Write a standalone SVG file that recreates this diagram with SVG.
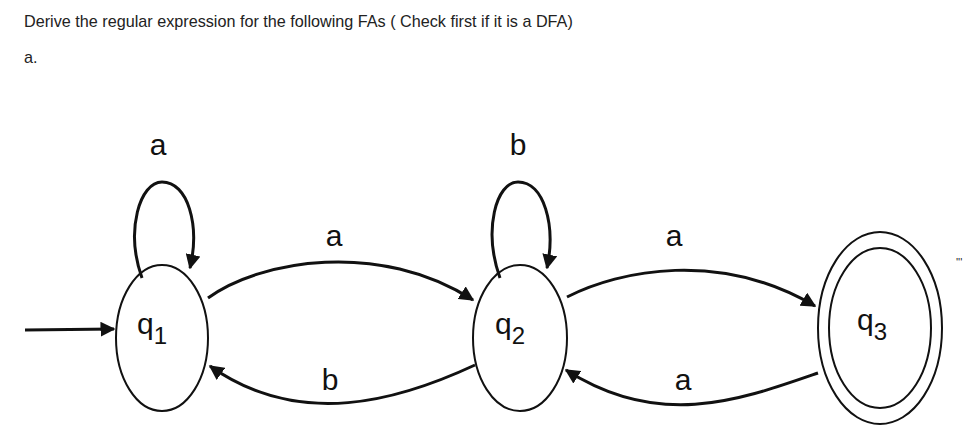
<svg xmlns="http://www.w3.org/2000/svg" width="974" height="441" viewBox="0 0 974 441">
<style>
.st{fill:none;stroke:#111;stroke-width:2}
.ed{fill:none;stroke:#111;stroke-width:3}
.lb{font-family:"Liberation Sans",Arial,sans-serif;font-size:30px;fill:#111;text-anchor:middle}
.sb{font-family:"Liberation Sans",Arial,sans-serif;font-size:24px;fill:#111}
.tx{font-family:"Liberation Sans",Arial,sans-serif;font-size:16.2px;fill:#222}
</style>
<defs><marker id="ar" viewBox="0 0 10 10" refX="9" refY="5" markerWidth="5" markerHeight="5" orient="auto"><path d="M0,0L10,5L0,10z" fill="#111"/></marker></defs>
<rect width="974" height="441" fill="#fff"/>
<text class="tx" x="24" y="27">Derive the regular expression for the following FAs ( Check first if it is a DFA)</text>
<text class="tx" x="24" y="63">a.</text>
<text class="tx" x="956" y="266" style="font-size:11px">'''</text>
<g id="q1"><ellipse class="st" cx="162" cy="338" rx="46" ry="73"/><text class="lb" x="152" y="334">q<tspan class="sb" dy="10">1</tspan></text></g>
<g id="q2"><ellipse class="st" cx="520" cy="338" rx="47" ry="73"/><text class="lb" x="510" y="334">q<tspan class="sb" dy="10">2</tspan></text></g>
<g id="q3"><ellipse class="st" cx="880" cy="328" rx="62" ry="96"/><ellipse class="st" cx="880" cy="328" rx="51" ry="80"/><text class="lb" x="872" y="330">q<tspan class="sb" dy="10">3</tspan></text></g>
<g id="connectors">
<line class="ed" x1="25" y1="330" x2="114" y2="329" marker-end="url(#ar)"/>
<path class="ed" d="M142,278 C125,230 140,182 162,182 C188,182 200,225 190,268" marker-end="url(#ar)"/>
<path class="ed" d="M500,278 C483,230 496,182 518,182 C544,182 556,225 547,268" marker-end="url(#ar)"/>
<path class="ed" d="M208,298 C260,260 380,240 473,300" marker-end="url(#ar)"/>
<path class="ed" d="M475,365 C400,400 300,430 210,366" marker-end="url(#ar)"/>
<path class="ed" d="M567,297 C620,270 720,250 815,306" marker-end="url(#ar)"/>
<path class="ed" d="M818,373 C740,400 660,430 566,370" marker-end="url(#ar)"/>
</g>
<text class="lb" x="158" y="155">a</text>
<text class="lb" x="518" y="155">b</text>
<text class="lb" x="334" y="246">a</text>
<text class="lb" x="330" y="390">b</text>
<text class="lb" x="674" y="246">a</text>
<text class="lb" x="683" y="390">a</text>
</svg>
